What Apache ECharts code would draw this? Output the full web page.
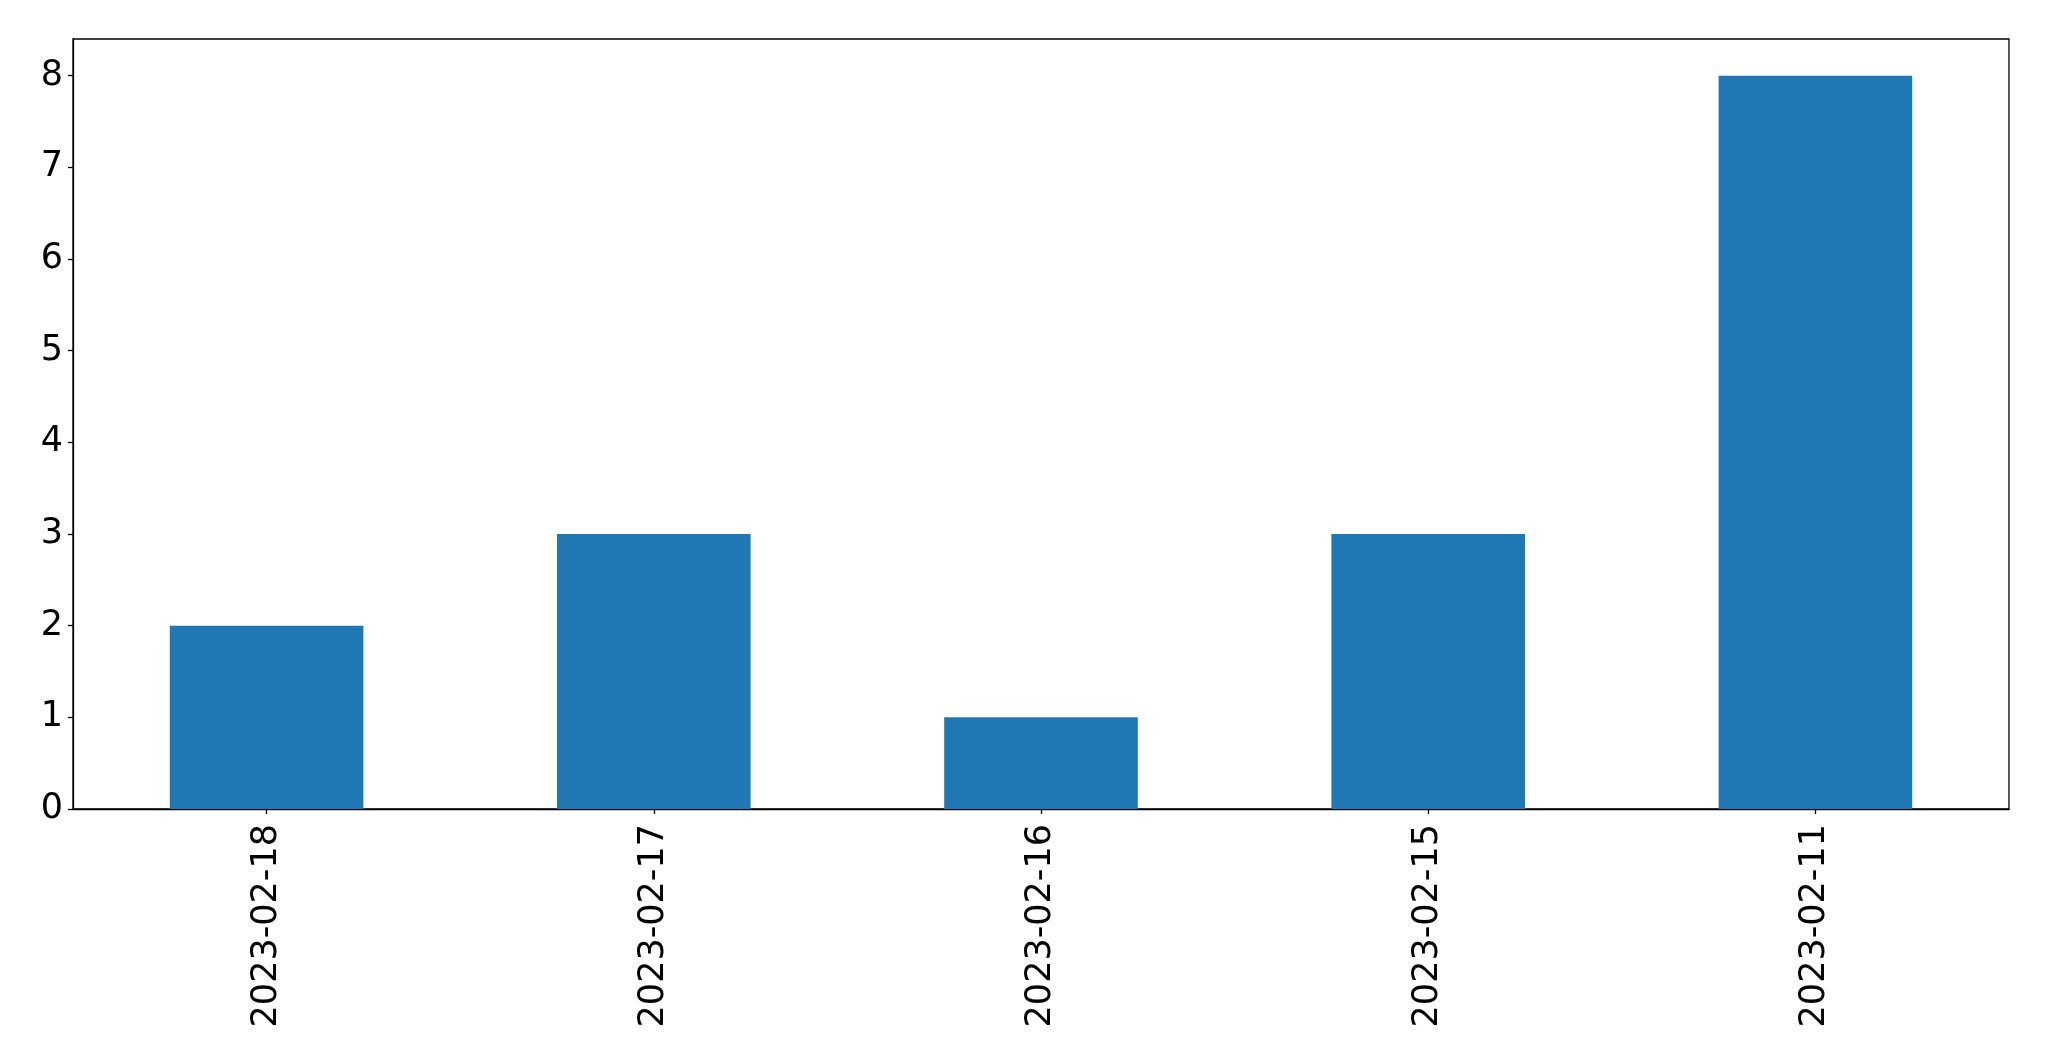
<!DOCTYPE html>
<html>
<head>
<meta charset="utf-8">
<script src="https://cdn.jsdelivr.net/npm/echarts@6/dist/echarts.min.js"></script>
<style>
html,body{margin:0;padding:0;background:#fff;}
#chart{width:2049px;height:1061px;}
</style>
</head>
<body>
<div id="chart"></div>
<script>
const categories = ['2023-02-18', '2023-02-17', '2023-02-16', '2023-02-15', '2023-02-11'];
const values = [2, 3, 1, 3, 8];
const yTicks = [0, 1, 2, 3, 4, 5, 6, 7, 8];

const chart = echarts.init(document.getElementById('chart'), null, {renderer: 'canvas'});
chart.setOption({
  animation: false,
  backgroundColor: '#ffffff',
  grid: {left: 73, top: 39, width: 1936, height: 770, containLabel: false, show: true, borderColor: '#000', borderWidth: 1.3, backgroundColor: 'transparent'},
  xAxis: {
    type: 'category',
    data: categories,
    boundaryGap: true,
    axisLine: {show: true, lineStyle: {color: '#000', width: 1.3}},
    axisTick: {show: true, alignWithLabel: true, length: 5, lineStyle: {color: '#000', width: 1.3}},
    axisLabel: {rotate: 90, margin: 15, fontSize: 35, color: '#000', fontFamily: 'DejaVu Sans', interval: 0},
    splitLine: {show: false}
  },
  yAxis: {
    type: 'value',
    min: 0, max: 8.4,
    axisLine: {show: true, lineStyle: {color: '#000', width: 1.3}},
    axisTick: {show: true, length: 5, customValues: yTicks, lineStyle: {color: '#000', width: 1.3}},
    axisLabel: {margin: 10, fontSize: 35, color: '#000', fontFamily: 'DejaVu Sans', customValues: yTicks},
    splitLine: {show: false}
  },
  series: [{
    type: 'bar',
    data: values,
    barWidth: '50%',
    itemStyle: {color: '#1f77b4'}
  }]
});
</script>
</body>
</html>
